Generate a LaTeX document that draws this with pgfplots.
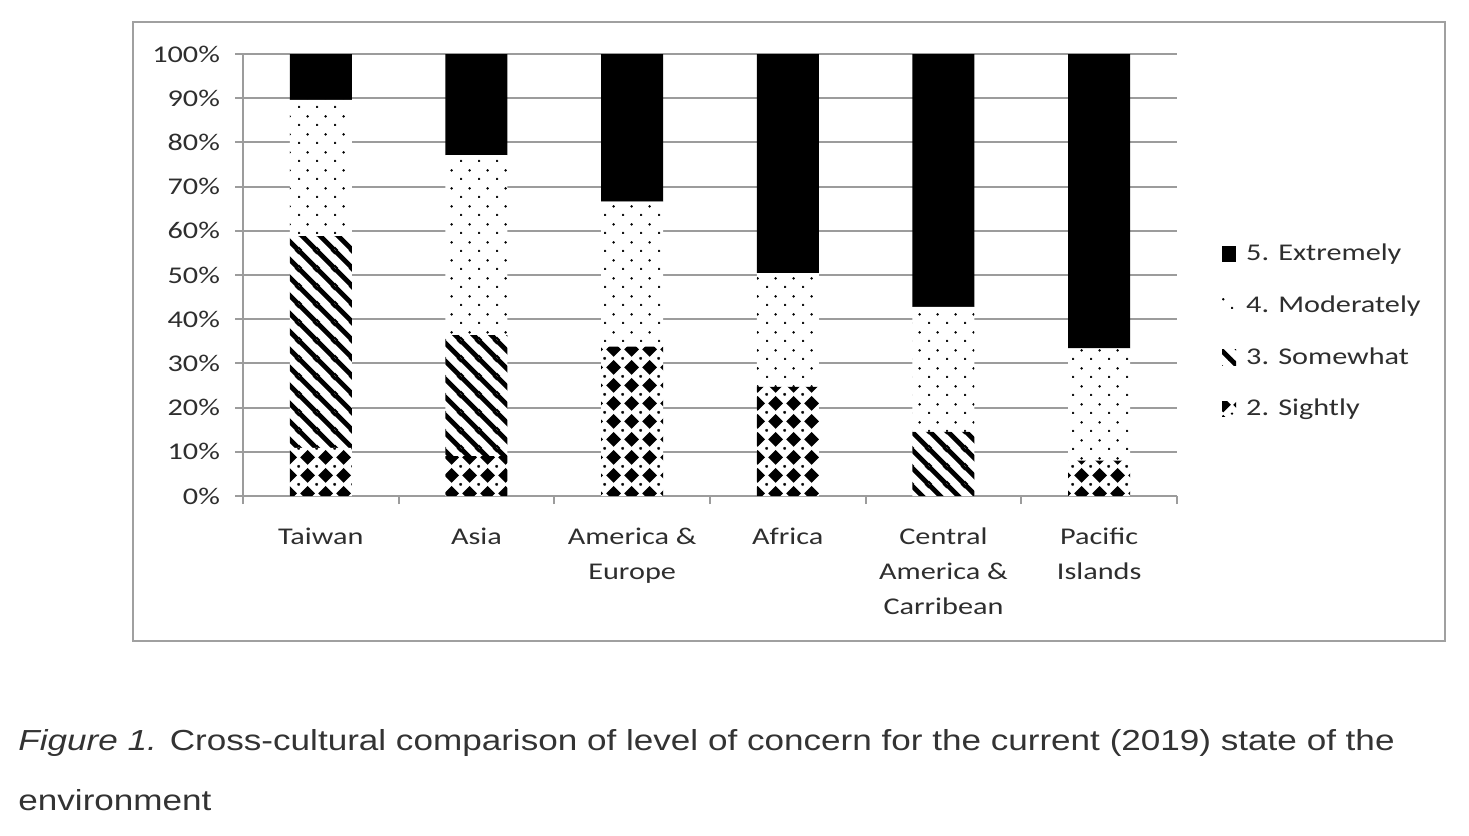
\documentclass[border=0pt]{standalone}
\usepackage{pgfplots}
\pgfplotsset{compat=1.18}
\usepackage{pgfplotstable}
\usepackage{fontspec}
\setmainfont{Carlito}[FakeStretch=1.26]
\newfontfamily\capfont{Liberation Sans}[FakeStretch=1.21]
\usetikzlibrary{patterns}

\definecolor{gridgray}{HTML}{9C9C9C}
\definecolor{framegray}{HTML}{A0A0A0}
\definecolor{txt}{HTML}{2E2E2E}
\definecolor{captxt}{HTML}{333333}

% staggered small dots
\pgfdeclarepatternformonly{xdots}{\pgfqpoint{-0.5pt}{-0.5pt}}{\pgfqpoint{8.3pt}{8.3pt}}{\pgfqpoint{8.8pt}{8.8pt}}{
  \pgfpathcircle{\pgfqpoint{0pt}{0pt}}{0.7pt}
  \pgfpathcircle{\pgfqpoint{4.4pt}{4.4pt}}{0.7pt}
  \pgfusepath{fill}}
% diamonds with small dots between
\pgfdeclarepatternformonly{xdiamonds}{\pgfqpoint{0pt}{0pt}}{\pgfqpoint{8.8pt}{8.8pt}}{\pgfqpoint{8.8pt}{8.8pt}}{
  \pgfpathmoveto{\pgfqpoint{4.4pt}{0.6pt}}
  \pgfpathlineto{\pgfqpoint{8.2pt}{4.4pt}}
  \pgfpathlineto{\pgfqpoint{4.4pt}{8.2pt}}
  \pgfpathlineto{\pgfqpoint{0.6pt}{4.4pt}}
  \pgfpathclose
  \pgfpathcircle{\pgfqpoint{0pt}{0pt}}{0.6pt}
  \pgfpathcircle{\pgfqpoint{8.8pt}{0pt}}{0.6pt}
  \pgfpathcircle{\pgfqpoint{0pt}{8.8pt}}{0.6pt}
  \pgfpathcircle{\pgfqpoint{8.8pt}{8.8pt}}{0.6pt}
  \pgfusepath{fill}}
% wide back-slash stripes
\pgfdeclarepatternformonly{xstripes}{\pgfqpoint{0pt}{0pt}}{\pgfqpoint{8.8pt}{8.8pt}}{\pgfqpoint{8.8pt}{8.8pt}}{
  \pgfsetlinewidth{2.4pt}
  \pgfpathmoveto{\pgfqpoint{0pt}{8.8pt}}\pgfpathlineto{\pgfqpoint{8.8pt}{0pt}}
  \pgfpathmoveto{\pgfqpoint{-1pt}{1pt}}\pgfpathlineto{\pgfqpoint{1pt}{-1pt}}
  \pgfpathmoveto{\pgfqpoint{7.8pt}{9.8pt}}\pgfpathlineto{\pgfqpoint{9.8pt}{7.8pt}}
  \pgfusepath{stroke}}

\pgfplotstableread{
x slightly somewhat moderately extremely
0 10.9 47.9 30.8 10.4
1 9.0  27.4 40.7 22.9
2 33.8 0    32.8 33.4
3 24.7 0    25.7 49.6
4 0    14.5 28.3 57.2
5 8.0  0    25.4 66.6
}\concern

\begin{document}
\begin{tikzpicture}
\path (0pt,0pt) rectangle (734.5pt,-418pt);
\draw[framegray, line width=1pt] (66.5pt,-11pt) rectangle (722.5pt,-320.5pt);
\begin{axis}[
  at={(121.5pt,-248pt)}, anchor=south west,
  scale only axis, width=467pt, height=221pt,
  ybar stacked, bar width=31pt,
  xmin=-0.5, xmax=5.5, ymin=0, ymax=100,
  axis lines=left,
  axis line style={-, draw=gridgray, line width=1pt},
  ymajorgrids, grid style={gridgray, line width=1pt},
  ytick={0,10,...,100},
  yticklabels={0\%,10\%,20\%,30\%,40\%,50\%,60\%,70\%,80\%,90\%,100\%},
  xtick={0,...,5},
  xticklabels={Taiwan, Asia, America \&\\Europe, Africa, Central\\America \&\\Carribean, Pacific\\Islands},
  minor xtick={-0.5,0.5,...,5.5},
  tick align=outside,
  major tick length=4pt, minor tick length=4pt,
  tick style={gridgray, line width=1pt},
  major x tick style={draw=none},
  ticklabel style={font=\fontsize{12}{17.5}\selectfont, text=txt},
  xticklabel style={align=center, yshift=-8.5pt},
  yticklabel style={xshift=-4pt},
  legend style={at={(1.048,0.372)}, anchor=west, draw=none, fill=none,
    font=\fontsize{12}{14}\selectfont, text=txt, row sep=12pt, inner sep=0pt,
    /tikz/every odd column/.append style={column sep=3pt}},
  legend cell align=left,
  reverse legend,
  legend image code/.code={\fill[#1] (0pt,-3.8pt) rectangle (7pt,3.8pt);},
]
\addplot[fill=white, draw=none, postaction={pattern=xdiamonds}] table[x=x, y=slightly]{\concern};
\addlegendentry{2. Sightly}
\addplot[fill=white, draw=none, postaction={pattern=xstripes}] table[x=x, y=somewhat]{\concern};
\addlegendentry{3. Somewhat}
\addplot[fill=white, draw=none, postaction={pattern=xdots}] table[x=x, y=moderately]{\concern};
\addlegendentry{4. Moderately}
\addplot[fill=black, draw=none] table[x=x, y=extremely]{\concern};
\addlegendentry{5. Extremely}
\end{axis}
\node[anchor=base west, inner sep=0pt, font=\capfont\fontsize{14.5}{17}\selectfont, text=captxt]
  at (9pt,-375pt) {\textit{Figure 1.} Cross-cultural comparison of level of concern for the current (2019) state of the};
\node[anchor=base west, inner sep=0pt, font=\capfont\fontsize{14.5}{17}\selectfont, text=captxt]
  at (9pt,-405pt) {environment};
\end{tikzpicture}
\end{document}
